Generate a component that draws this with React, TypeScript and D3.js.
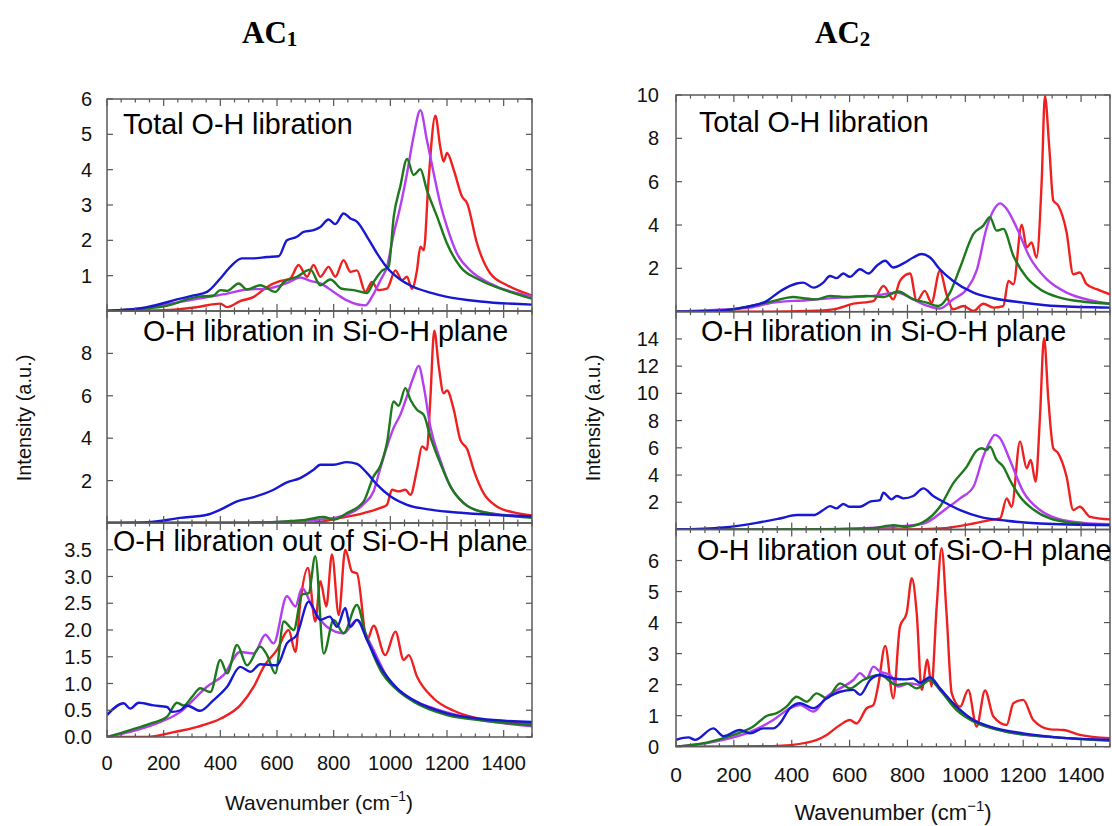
import * as d3 from "d3";

type Pt = [number, number];

// ---- x ticks ----
const xTickLabels = [0, 200, 400, 600, 800, 1000, 1200, 1400];

// ---- AC1 : total O-H libration ----
const ac1TotalRed: Pt[] = [[0,0],[100,0.01],[200,0.02],[318,0.11],[400,0.21],[424,0.11],[470,0.28],[518,0.4],[565,0.68],[612,0.85],[647,0.92],[676,1.3],[706,0.97],[729,1.3],[753,0.97],[782,1.25],[806,0.97],[835,1.44],[859,1.11],[882,1.15],[912,0.54],[935,0.82],[959,0.59],[988,0.63],[1018,1.15],[1041,0.87],[1059,0.97],[1076,0.63],[1094,1.15],[1106,1.82],[1118,1.72],[1135,3.71],[1159,5.53],[1176,4.65],[1188,4.23],[1200,4.47],[1224,3.99],[1253,3.24],[1271,3.05],[1306,1.91],[1353,1.06],[1412,0.73],[1500,0.44]];
const ac1TotalGreen: Pt[] = [[0,0],[100,0.05],[200,0.13],[318,0.4],[376,0.44],[400,0.59],[424,0.57],[465,0.78],[494,0.61],[541,0.73],[594,0.54],[624,0.82],[670,0.97],[718,1.17],[753,0.73],[788,0.89],[829,0.63],[871,0.59],[918,0.51],[941,0.82],[971,1.14],[994,1.25],[1012,2.67],[1035,3.52],[1059,4.3],[1082,3.85],[1106,4.01],[1129,3.42],[1165,2.67],[1200,1.91],[1247,1.25],[1318,0.87],[1412,0.57],[1500,0.35]];
const ac1TotalMagenta: Pt[] = [[0,0],[130,0.08],[259,0.26],[376,0.42],[424,0.49],[494,0.61],[565,0.63],[635,0.79],[682,0.95],[718,0.85],[753,0.78],[800,0.54],[847,0.3],[882,0.19],[912,0.16],[935,0.4],[965,0.87],[988,1.25],[1012,2.19],[1035,2.95],[1059,3.9],[1082,4.94],[1106,5.68],[1129,4.84],[1153,3.9],[1176,3.05],[1200,2.38],[1235,1.63],[1282,1.15],[1353,0.78],[1500,0.42]];
const ac1TotalBlue: Pt[] = [[0,0],[141,0.11],[259,0.35],[306,0.44],[353,0.54],[400,0.92],[435,1.25],[476,1.49],[518,1.49],[565,1.53],[606,1.55],[635,2.0],[670,2.1],[694,2.24],[729,2.29],[753,2.38],[782,2.59],[806,2.46],[835,2.76],[859,2.62],[882,2.53],[918,2.1],[953,1.63],[988,1.23],[1035,0.89],[1082,0.68],[1141,0.52],[1200,0.4],[1318,0.27],[1500,0.18]];

// ---- AC1 : in Si-O-H plane ----
const ac1InRed: Pt[] = [[0,0],[500,0],[729,0.03],[824,0.24],[906,0.47],[965,0.71],[988,0.86],[1006,1.57],[1029,1.49],[1053,1.57],[1071,1.33],[1094,2.51],[1112,3.61],[1129,3.45],[1141,5.81],[1155,9.07],[1171,7.38],[1188,6.12],[1200,6.25],[1224,5.34],[1247,3.92],[1271,3.49],[1294,2.51],[1329,1.41],[1376,0.78],[1435,0.5],[1500,0.35]];
const ac1InGreen: Pt[] = [[0,0],[500,0.02],[700,0.15],[765,0.28],[800,0.16],[847,0.47],[906,1.02],[941,2.2],[965,2.7],[988,3.77],[1012,5.73],[1029,5.53],[1053,6.36],[1071,5.81],[1094,5.34],[1118,5.1],[1141,4.08],[1176,2.83],[1212,1.73],[1259,0.94],[1318,0.55],[1500,0.24]];
const ac1InMagenta: Pt[] = [[0,0],[500,0.02],[753,0.16],[847,0.39],[906,0.9],[941,1.5],[965,2.6],[988,3.6],[1012,4.5],[1035,5.1],[1059,6.0],[1082,6.9],[1100,7.41],[1118,6.44],[1141,4.55],[1176,2.98],[1212,1.73],[1259,0.94],[1318,0.55],[1500,0.28]];
const ac1InBlue: Pt[] = [[0,0],[141,0.03],[259,0.24],[353,0.39],[400,0.63],[459,1.02],[518,1.22],[588,1.57],[635,1.92],[682,2.12],[729,2.51],[753,2.75],[800,2.75],[847,2.87],[882,2.79],[918,2.35],[953,1.81],[1000,1.26],[1059,0.86],[1141,0.63],[1259,0.47],[1500,0.31]];

// ---- AC1 : out of Si-O-H plane ----
const ac1OutRed: Pt[] = [[0,0],[141,0],[235,0.09],[318,0.19],[400,0.34],[470,0.59],[518,0.94],[553,1.31],[600,1.63],[641,2.0],[665,1.59],[682,2.5],[709,3.16],[735,2.16],[753,2.91],[774,2.44],[794,3.41],[818,2.28],[841,3.5],[865,3.09],[882,3.06],[918,1.81],[941,2.08],[982,1.53],[1018,1.97],[1047,1.44],[1065,1.53],[1094,1.13],[1153,0.72],[1224,0.49],[1318,0.34],[1500,0.25]];
const ac1OutGreen: Pt[] = [[0,0],[82,0.13],[153,0.25],[212,0.38],[247,0.64],[271,0.59],[300,0.75],[329,0.91],[365,0.84],[400,1.44],[424,1.19],[459,1.72],[494,1.34],[541,1.69],[565,1.53],[594,1.19],[624,2.16],[659,2.0],[688,2.66],[712,2.69],[735,3.38],[765,1.56],[800,2.19],[835,1.94],[882,2.47],[912,1.94],[965,1.25],[1024,0.88],[1082,0.66],[1200,0.41],[1318,0.31],[1500,0.22]];
const ac1OutMagenta: Pt[] = [[0,0],[141,0.19],[259,0.47],[353,0.94],[412,1.16],[470,1.59],[518,1.56],[559,1.91],[588,1.75],[635,2.63],[665,2.44],[688,2.78],[729,2.38],[776,2.06],[835,1.94],[882,2.19],[929,1.75],[988,1.13],[1059,0.75],[1141,0.56],[1259,0.38],[1500,0.2]];
const ac1OutBlue: Pt[] = [[0,0.41],[59,0.63],[82,0.53],[112,0.64],[165,0.59],[212,0.56],[229,0.47],[259,0.5],[282,0.59],[329,0.49],[376,0.69],[424,0.94],[470,1.31],[506,1.22],[541,1.36],[600,1.34],[635,1.75],[670,1.91],[712,2.53],[753,2.19],[786,2.25],[812,2.06],[841,2.41],[859,2.06],[882,2.19],[918,1.81],[965,1.31],[1024,0.91],[1082,0.69],[1200,0.44],[1318,0.34],[1500,0.28]];

// ---- AC2 : total O-H libration ----
const ac2TotalRed: Pt[] = [[0,0],[336,0],[452,0.03],[544,0.11],[613,0.37],[682,0.49],[717,1.19],[751,0.57],[774,1.42],[809,1.76],[832,0.49],[860,0.96],[883,0.42],[912,1.89],[935,0.8],[958,0.11],[993,0.26],[1028,0.03],[1062,0.37],[1097,0.19],[1131,0.26],[1149,1.42],[1166,1.27],[1195,4.02],[1212,2.97],[1229,3.2],[1246,2.5],[1264,6.06],[1275,9.95],[1290,7.6],[1304,5.13],[1321,4.9],[1350,3.66],[1373,1.73],[1396,1.81],[1419,1.27],[1454,1.04],[1500,0.8]];
const ac2TotalGreen: Pt[] = [[0,0],[164,0.06],[256,0.26],[336,0.49],[406,0.68],[440,0.62],[486,0.57],[532,0.73],[590,0.68],[659,0.73],[717,0.68],[768,0.93],[820,0.57],[866,0.42],[907,0.26],[947,0.88],[982,2.04],[1028,3.59],[1062,3.97],[1085,4.36],[1108,3.74],[1131,3.82],[1166,2.58],[1212,1.58],[1258,1.04],[1327,0.65],[1408,0.46],[1500,0.37]];
const ac2TotalMagenta: Pt[] = [[0,0],[164,0.1],[256,0.19],[336,0.42],[452,0.53],[567,0.65],[682,0.73],[763,0.88],[809,0.65],[855,0.34],[912,0.15],[958,0.57],[1005,1.04],[1039,1.89],[1074,3.89],[1097,4.67],[1120,5.0],[1143,4.74],[1177,3.89],[1223,2.5],[1281,1.5],[1350,0.88],[1431,0.53],[1500,0.37]];
const ac2TotalBlue: Pt[] = [[0,0],[164,0.06],[244,0.22],[313,0.49],[359,0.93],[394,1.19],[417,1.3],[440,1.34],[475,1.11],[509,1.34],[532,1.65],[555,1.55],[578,1.76],[601,1.61],[636,1.96],[665,1.76],[694,2.12],[723,2.35],[751,2.04],[786,2.23],[820,2.5],[849,2.66],[878,2.5],[912,1.96],[958,1.42],[1028,0.88],[1097,0.62],[1200,0.42],[1316,0.26],[1500,0.19]];

// ---- AC2 : in Si-O-H plane ----
const ac2InRed: Pt[] = [[0,0],[800,0],[912,0.07],[1028,0.44],[1085,0.69],[1120,0.81],[1143,2.29],[1160,1.67],[1189,6.46],[1212,4.5],[1226,5.11],[1243,3.51],[1258,8.3],[1272,14.08],[1287,9.53],[1304,5.97],[1321,5.6],[1350,3.88],[1373,1.43],[1396,1.67],[1431,0.93],[1500,0.74]];
const ac2InGreen: Pt[] = [[0,0],[500,0.02],[682,0.1],[751,0.32],[797,0.2],[866,0.69],[912,1.67],[958,3.39],[1005,4.62],[1039,5.8],[1056,5.97],[1074,5.85],[1085,6.09],[1108,5.11],[1131,4.62],[1154,3.64],[1189,2.41],[1235,1.47],[1292,0.81],[1373,0.49],[1500,0.32]];
const ac2InMagenta: Pt[] = [[0,0],[500,0.02],[751,0.2],[855,0.44],[935,1.55],[982,2.29],[1028,3.14],[1062,5.36],[1085,6.46],[1102,6.95],[1120,6.71],[1154,5.11],[1200,2.78],[1258,1.43],[1316,0.81],[1408,0.49],[1500,0.39]];
const ac2InBlue: Pt[] = [[0,0],[164,0.15],[279,0.49],[359,0.81],[417,1.06],[475,1.06],[509,1.43],[532,1.72],[555,1.55],[578,1.87],[601,1.67],[636,1.67],[671,2.04],[705,2.16],[717,2.7],[745,2.21],[763,2.46],[786,2.29],[820,2.46],[855,3.02],[889,2.46],[924,2.04],[982,1.43],[1051,0.93],[1143,0.64],[1258,0.44],[1500,0.32]];

// ---- AC2 : out of Si-O-H plane ----
const ac2OutRed: Pt[] = [[0,0],[336,0.02],[452,0.13],[521,0.38],[567,0.7],[601,0.86],[624,0.75],[659,1.24],[682,1.34],[700,2.04],[723,3.25],[751,1.56],[774,3.87],[797,4.3],[815,5.43],[832,4.3],[849,1.83],[869,2.8],[883,1.94],[901,4.52],[918,6.4],[935,4.3],[953,1.72],[982,1.29],[1010,1.83],[1039,0.65],[1068,1.81],[1097,0.97],[1143,0.7],[1166,1.4],[1200,1.51],[1235,0.86],[1293,0.56],[1339,0.54],[1396,0.38],[1500,0.27]];
const ac2OutGreen: Pt[] = [[0,0],[106,0.13],[198,0.38],[267,0.65],[313,0.99],[348,1.08],[382,1.29],[417,1.61],[452,1.45],[486,1.72],[521,1.56],[567,2.04],[601,1.88],[647,2.15],[705,2.31],[763,1.99],[797,2.04],[832,1.88],[878,2.15],[912,1.83],[970,1.18],[1028,0.81],[1143,0.48],[1316,0.3],[1500,0.19]];
const ac2OutMagenta: Pt[] = [[0,0],[164,0.22],[256,0.48],[336,0.86],[394,1.24],[429,1.34],[475,1.13],[521,1.61],[567,1.88],[613,2.15],[636,2.37],[659,2.2],[682,2.58],[705,2.42],[740,2.31],[769,1.94],[809,2.04],[843,1.99],[878,2.17],[912,1.88],[970,1.24],[1028,0.86],[1143,0.48],[1316,0.3],[1500,0.22]];
const ac2OutBlue: Pt[] = [[0,0.22],[43,0.3],[66,0.22],[129,0.59],[164,0.34],[221,0.54],[256,0.43],[302,0.59],[336,0.59],[359,0.75],[394,1.24],[429,1.4],[475,1.24],[521,1.56],[567,1.77],[613,1.83],[636,1.67],[671,2.15],[705,2.31],[751,2.2],[797,2.17],[820,2.2],[843,2.06],[878,2.24],[912,1.88],[970,1.29],[1028,0.86],[1085,0.65],[1200,0.43],[1316,0.3],[1500,0.22]];

const RED = "#ee2020";
const GREEN = "#1c7a1c";
const MAGENTA = "#b43ff0";
const BLUE = "#1818d2";

const FONT = "'Liberation Sans', Arial, sans-serif";

interface PanelProps {
  id: string;
  x0: number;
  x1: number;
  y0: number;
  y1: number;
  yMax: number;
  yTicks: number[];
  fmt: (v: number) => string;
  tickLabelRight: number;
  label: string;
  labelX: number;
  labelY: number;
  series: Pt[][];
}

function Panel(p: PanelProps) {
  const x = d3.scaleLinear().domain([0, 1500]).range([p.x0, p.x1]);
  const y = d3.scaleLinear().domain([0, p.yMax]).range([p.y1, p.y0]);
  const line = d3
    .line<Pt>()
    .x((d) => x(d[0]))
    .y((d) => y(d[1]))
    .curve(d3.curveMonotoneX);
  const colors = [RED, MAGENTA, GREEN, BLUE];
  const minor = d3.range(0, 1501, 50);
  return (
    <g>
      <clipPath id={p.id}>
        <rect x={p.x0} y={p.y0} width={p.x1 - p.x0} height={p.y1 - p.y0} />
      </clipPath>
      <g clipPath={`url(#${p.id})`}>
        {p.series.map((s, i) => (
          <path key={i} d={line(s) ?? ""} fill="none" stroke={colors[i]} strokeWidth={2.4} strokeLinejoin="round" />
        ))}
      </g>
      {/* x ticks, top and bottom, inward */}
      {minor.map((v) => {
        const len = v % 200 === 0 ? 7 : 3.5;
        return (
          <g key={v} stroke="#555" strokeWidth={1.2}>
            <line x1={x(v)} x2={x(v)} y1={p.y1} y2={p.y1 - len} />
            <line x1={x(v)} x2={x(v)} y1={p.y0} y2={p.y0 + len} />
          </g>
        );
      })}
      {p.yTicks.map((v) => (
        <g key={v}>
          <line x1={p.x0} x2={p.x0 + 6} y1={y(v)} y2={y(v)} stroke="#555" strokeWidth={1.2} />
          <line x1={p.x1} x2={p.x1 - 6} y1={y(v)} y2={y(v)} stroke="#555" strokeWidth={1.2} />
          <text x={p.tickLabelRight} y={y(v)} dy="0.35em" textAnchor="end" fontSize={20} fontFamily={FONT} fill="#111">
            {p.fmt(v)}
          </text>
        </g>
      ))}
      <rect x={p.x0} y={p.y0} width={p.x1 - p.x0} height={p.y1 - p.y0} fill="none" stroke="#5a5a5a" strokeWidth={1.5} />
      <text x={p.labelX} y={p.labelY} fontSize={28.7} fontFamily={FONT} fill="#000">
        {p.label}
      </text>
    </g>
  );
}

function XAxisLabels({ x0, x1, y, size }: { x0: number; x1: number; y: number; size: number }) {
  const x = d3.scaleLinear().domain([0, 1500]).range([x0, x1]);
  return (
    <g>
      {xTickLabels.map((v) => (
        <text key={v} x={x(v)} y={y} textAnchor="middle" fontSize={size} fontFamily={FONT} fill="#111">
          {v}
        </text>
      ))}
    </g>
  );
}

export default function App() {
  const fmt0 = (v: number) => d3.format("d")(v);
  const fmt1 = (v: number) => d3.format(".1f")(v);
  const L = { x0: 107, x1: 532 };
  const R = { x0: 676, x1: 1110 };
  return (
    <svg width={1112} height={826} style={{ position: "absolute", left: 0, top: 0, background: "#fff" }}>
      <rect width={1112} height={826} fill="#fff" />

      {/* titles */}
      <text x={242} y={43} fontFamily="'Liberation Serif', 'Times New Roman', serif" fontWeight="bold" fontSize={31}>
        AC<tspan fontSize={21} dy={3}>1</tspan>
      </text>
      <text x={815} y={43} fontFamily="'Liberation Serif', 'Times New Roman', serif" fontWeight="bold" fontSize={31}>
        AC<tspan fontSize={21} dy={3}>2</tspan>
      </text>

      {/* AC1 */}
      <Panel id="c1" {...L} y0={99} y1={311} yMax={6} yTicks={[1, 2, 3, 4, 5, 6]} fmt={fmt0} tickLabelRight={92}
        label="Total O-H libration" labelX={123} labelY={134}
        series={[ac1TotalRed, ac1TotalMagenta, ac1TotalGreen, ac1TotalBlue]} />
      <Panel id="c2" {...L} y0={311} y1={523} yMax={10} yTicks={[2, 4, 6, 8]} fmt={fmt0} tickLabelRight={92}
        label="O-H libration in Si-O-H plane" labelX={143} labelY={341}
        series={[ac1InRed, ac1InMagenta, ac1InGreen, ac1InBlue]} />
      <Panel id="c3" {...L} y0={523} y1={737} yMax={4} yTicks={d3.range(0, 3.51, 0.5)} fmt={fmt1} tickLabelRight={92}
        label="O-H libration out of Si-O-H plane" labelX={113} labelY={551}
        series={[ac1OutRed, ac1OutMagenta, ac1OutGreen, ac1OutBlue]} />

      {/* AC2 */}
      <Panel id="c4" {...R} y0={95} y1={311.7} yMax={10} yTicks={[2, 4, 6, 8, 10]} fmt={fmt0} tickLabelRight={659}
        label="Total O-H libration" labelX={699} labelY={132}
        series={[ac2TotalRed, ac2TotalMagenta, ac2TotalGreen, ac2TotalBlue]} />
      <Panel id="c5" {...R} y0={311.7} y1={529.5} yMax={16} yTicks={[2, 4, 6, 8, 10, 12, 14]} fmt={fmt0} tickLabelRight={659}
        label="O-H libration in Si-O-H plane" labelX={701} labelY={341}
        series={[ac2InRed, ac2InMagenta, ac2InGreen, ac2InBlue]} />
      <Panel id="c6" {...R} y0={529.5} y1={746.7} yMax={7} yTicks={[0, 1, 2, 3, 4, 5, 6]} fmt={fmt0} tickLabelRight={659}
        label="O-H libration out of Si-O-H plane" labelX={697} labelY={560}
        series={[ac2OutRed, ac2OutMagenta, ac2OutGreen, ac2OutBlue]} />

      <XAxisLabels {...L} y={770} size={20} />
      <XAxisLabels {...R} y={782} size={21} />

      {/* axis titles */}
      <text x={319} y={810} textAnchor="middle" fontSize={21} fontFamily={FONT} fill="#111">
        Wavenumber (cm<tspan fontSize={14} dy={-9}>−1</tspan><tspan dy={9}>)</tspan>
      </text>
      <text x={893} y={820} textAnchor="middle" fontSize={22} fontFamily={FONT} fill="#111">
        Wavenumber (cm<tspan fontSize={15} dy={-9}>−1</tspan><tspan dy={9}>)</tspan>
      </text>
      <text transform="translate(31,418) rotate(-90)" textAnchor="middle" fontSize={20} fontFamily={FONT} fill="#111">
        Intensity (a.u.)
      </text>
      <text transform="translate(600,418) rotate(-90)" textAnchor="middle" fontSize={20} fontFamily={FONT} fill="#111">
        Intensity (a.u.)
      </text>
    </svg>
  );
}
